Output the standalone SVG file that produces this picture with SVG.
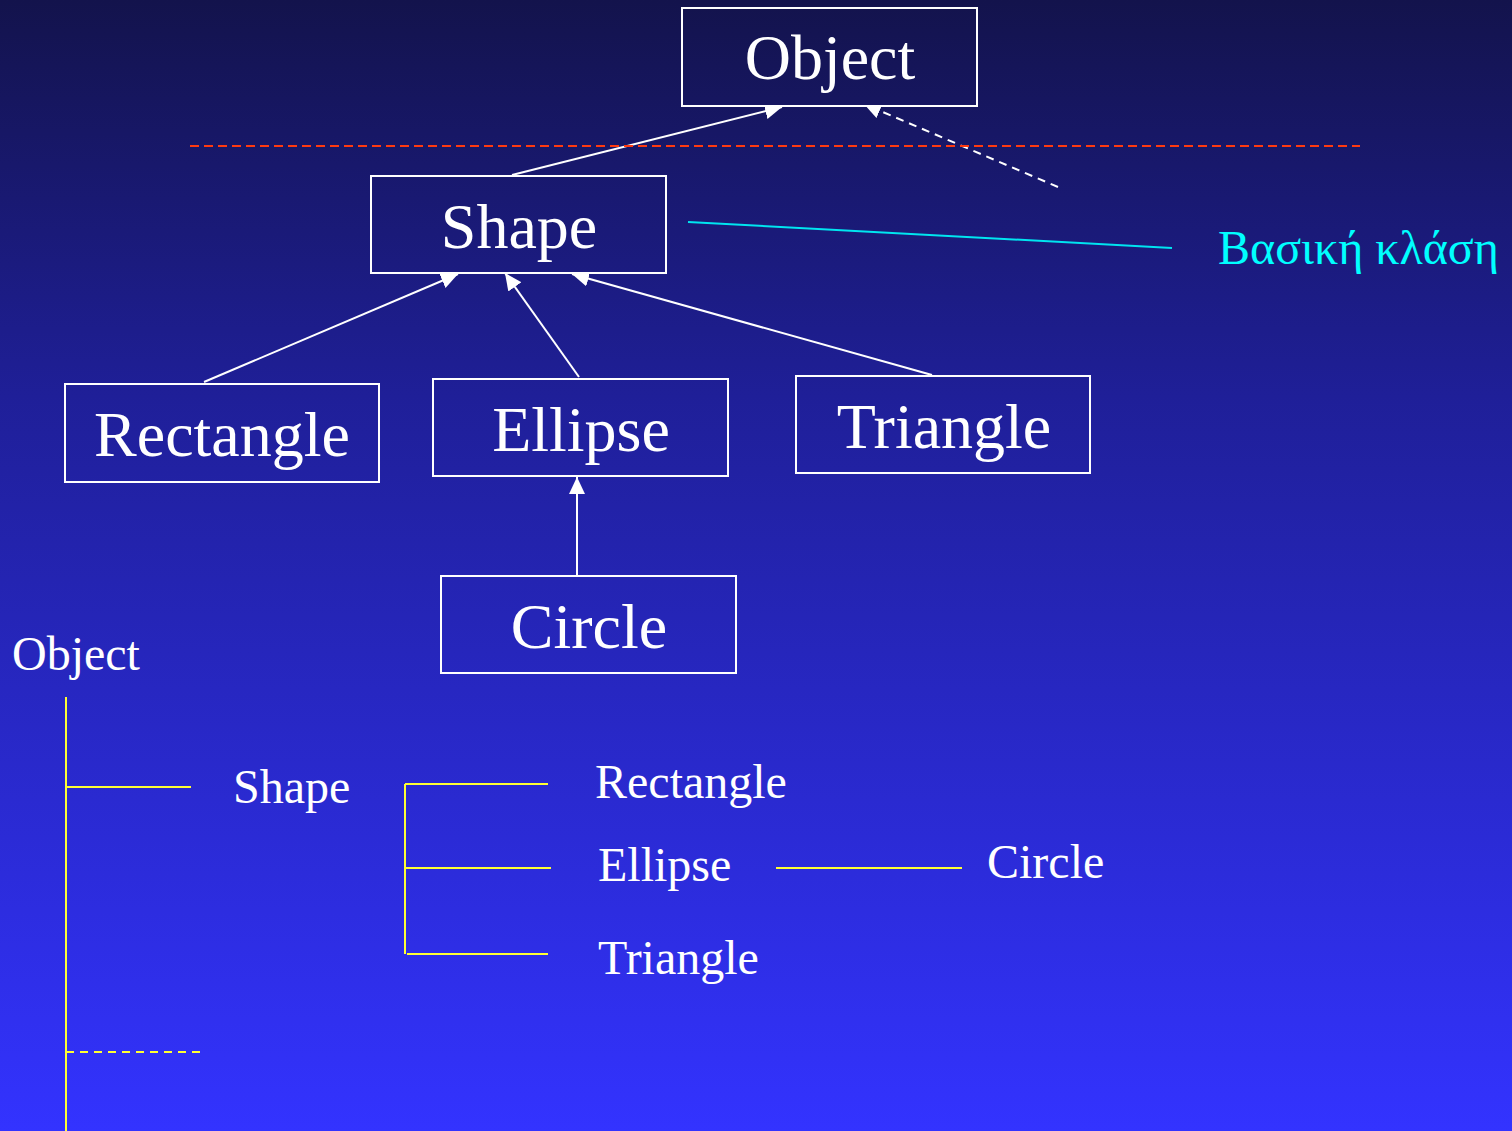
<svg xmlns="http://www.w3.org/2000/svg" width="1512" height="1131" viewBox="0 0 1512 1131">
<defs>
<linearGradient id="bg" gradientUnits="userSpaceOnUse" x1="0" y1="0" x2="0" y2="1131">
<stop offset="0" stop-color="#13134c"/>
<stop offset="0.35" stop-color="#1f1f98"/>
<stop offset="1" stop-color="#3333ff"/>
</linearGradient>
<marker id="ah" markerUnits="userSpaceOnUse" markerWidth="18" markerHeight="16" refX="17" refY="8" orient="auto">
<path d="M0,0 L17,8 L0,16 z" fill="#ffffff"/>
</marker>
<style>
.box{fill:url(#bg);stroke:#ffffff;stroke-width:2}
.big{font-family:"Liberation Serif","Times New Roman",serif;font-size:64px;fill:#ffffff;text-anchor:middle}
.small{font-family:"Liberation Serif","Times New Roman",serif;font-size:48px;fill:#ffffff}
.conn{stroke:#ffffff;stroke-width:2;fill:none}
.yl{stroke:#ffff33;stroke-width:2;fill:none}
</style>
</defs>
<rect x="0" y="0" width="1512" height="1131" fill="url(#bg)"/>

<g id="connectors">
<line class="conn" x1="512" y1="175" x2="782" y2="107" marker-end="url(#ah)"/>
<line class="conn" x1="1058" y1="187" x2="864" y2="104" stroke-dasharray="8,6" marker-end="url(#ah)"/>
<line class="conn" x1="204" y1="382" x2="458" y2="274" marker-end="url(#ah)"/>
<line class="conn" x1="579" y1="377" x2="505" y2="273" marker-end="url(#ah)"/>
<line class="conn" x1="932" y1="375" x2="572" y2="274" marker-end="url(#ah)"/>
<line class="conn" x1="577" y1="575" x2="577" y2="477" marker-end="url(#ah)"/>
<line x1="190" y1="146" x2="1360" y2="146" stroke="#ff3a10" stroke-width="2" stroke-dasharray="9,5"/>
<line x1="688" y1="222" x2="1172" y2="248" stroke="#00e5f0" stroke-width="2"/>
</g>

<g id="node-object">
<rect class="box" x="682" y="8" width="295" height="98"/>
<text class="big" x="830" y="79">Object</text>
</g>
<g id="node-shape">
<rect class="box" x="371" y="176" width="295" height="97"/>
<text class="big" x="519" y="248">Shape</text>
</g>
<g id="node-rectangle">
<rect class="box" x="65" y="384" width="314" height="98"/>
<text class="big" x="222" y="456">Rectangle</text>
</g>
<g id="node-ellipse">
<rect class="box" x="433" y="379" width="295" height="97"/>
<text class="big" x="581" y="451">Ellipse</text>
</g>
<g id="node-triangle">
<rect class="box" x="796" y="376" width="294" height="97"/>
<text class="big" x="944" y="448">Triangle</text>
</g>
<g id="node-circle">
<rect class="box" x="441" y="576" width="295" height="97"/>
<text class="big" x="589" y="648">Circle</text>
</g>

<g id="label-base">
<text x="1218" y="264" font-family="'Liberation Serif','Times New Roman',serif" font-size="48" fill="#00ffff">Βασική κλάση</text>
</g>

<g id="tree">
<text class="small" x="12" y="670">Object</text>
<text class="small" x="233" y="803">Shape</text>
<text class="small" x="595" y="798">Rectangle</text>
<text class="small" x="598" y="881">Ellipse</text>
<text class="small" x="598" y="974">Triangle</text>
<text class="small" x="987" y="878">Circle</text>
<line class="yl" x1="66" y1="697" x2="66" y2="1131"/>
<line class="yl" x1="66" y1="787" x2="191" y2="787"/>
<line class="yl" x1="66" y1="1052" x2="201" y2="1052" stroke-dasharray="8,6"/>
<line class="yl" x1="405" y1="784" x2="405" y2="954"/>
<line class="yl" x1="405" y1="784" x2="548" y2="784"/>
<line class="yl" x1="405" y1="868" x2="551" y2="868"/>
<line class="yl" x1="407" y1="954" x2="548" y2="954"/>
<line class="yl" x1="776" y1="868" x2="962" y2="868"/>
</g>
</svg>
